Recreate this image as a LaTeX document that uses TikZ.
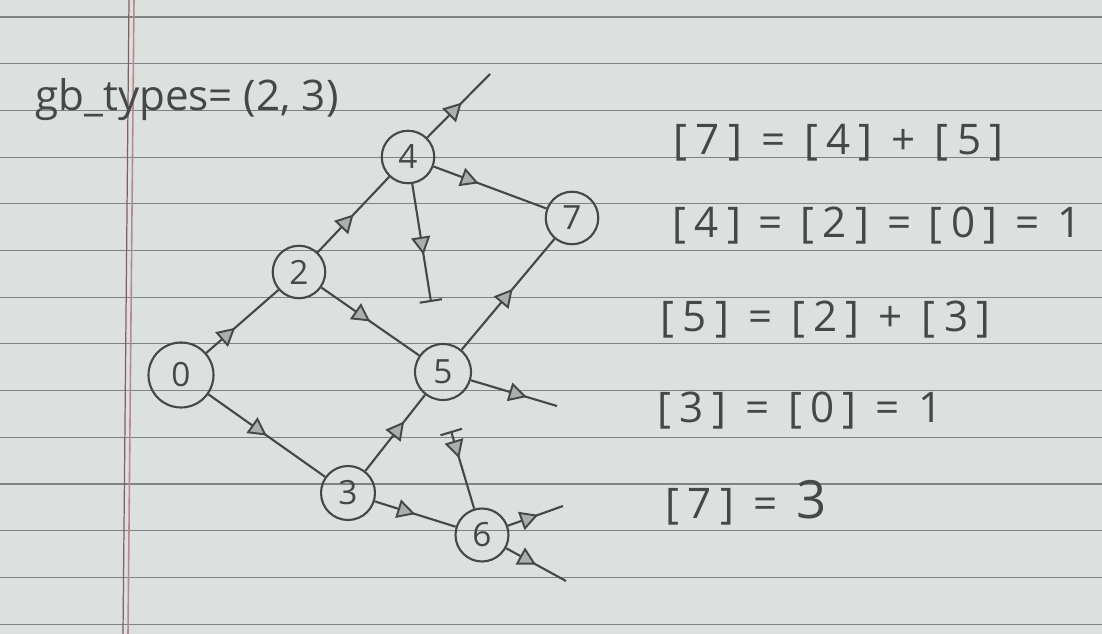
\documentclass[tikz,border=0pt]{standalone}
\usepackage{fontspec}
\setmainfont{Open Sans}
\usepackage{tikz}
\usetikzlibrary{positioning,arrows.meta,decorations.markings}
\definecolor{paper}{HTML}{DCE0DE}
\definecolor{ruling}{HTML}{7E8483}
\definecolor{margin}{HTML}{B8898C}
\definecolor{pencil}{HTML}{464848}
\newcommand{\bx}[1]{[\kern.2em#1\kern.2em]}
\DeclareRobustCommand{\eqfont}{\fontsize{24}{28}\selectfont\spaceskip=0.45em\relax}
\DeclareRobustCommand{\tightfont}{\fontsize{24}{28}\selectfont\spaceskip=0.42em\relax}
\tikzset{
  vertex/.style={
    draw=pencil, line width=1.2pt, circle, inner sep=0pt,
    minimum size=1.05cm, text=pencil, font=\fontsize{19}{21}\selectfont},
  edge/.style={draw=pencil, line width=1.2pt},
  midarrow/.style={postaction={decorate}, decoration={markings,
    mark=at position #1 with {\arrow[pencil, line width=1.1pt]{Triangle[length=3.6mm, width=3.8mm, fill=pencil!45]}}}},
  midarrow/.default=0.5,
  deadend/.style={-{Bar[width=4.5mm]}},
  eqn/.style={anchor=west, inner sep=0pt, text=pencil, font=\eqfont},
}

\begin{document}
\begin{tikzpicture}[x=0.02cm, y=-0.02cm]

  % paper
  \fill[paper] (0,0) rectangle (1102,634);
  \useasboundingbox (0,0) rectangle (1102,634);
  \foreach \k in {0,...,13}
    \draw[ruling, line width=0.6pt] (0,17+46.7*\k) -- (1102,17+46.7*\k);
  \draw[margin!70!black, line width=0.7pt] (129,0) -- (123,634);
  \draw[margin, line width=0.9pt] (134,0) -- (128,634);

  % graph
  \node[vertex, minimum size=1.3cm] (n0) at (181,375) {0};
  \node[vertex] (n2) at (299,272) {2};
  \node[vertex] (n4) at (408,157) {4};
  \node[vertex] (n7) at (572,218) {7};
  \node[vertex, minimum size=1.12cm] (n5) at (443,372) {5};
  \node[vertex, minimum size=1.08cm] (n3) at (348,493) {3};
  \node[vertex, minimum size=1.06cm] (n6) at (482,535) {6};

  \coordinate (o4) at (490,74);
  \coordinate (t4) at (431,302);
  \coordinate (o5) at (557,406);
  \coordinate (t6) at (451,431);
  \coordinate (o6a) at (563,506);
  \coordinate (o6b) at (566,581);

  \draw[edge, midarrow=0.4] (n0) -- (n2);
  \draw[edge, midarrow] (n2) -- (n4);
  \draw[edge, midarrow=0.55] (n4) -- (o4);
  \draw[edge, midarrow=0.4] (n4) -- (n7);
  \draw[edge, deadend, midarrow=0.6] (n4) -- (t4);
  \draw[edge, midarrow] (n2) -- (n5);
  \draw[edge, midarrow=0.55] (n5) -- (n7);
  \draw[edge, midarrow=0.65] (n5) -- (o5);
  \draw[edge, midarrow=0.5] (n0) -- (n3);
  \draw[edge, midarrow=0.65] (n3) -- (n5);
  \draw[edge, midarrow] (n3) -- (n6);
  \draw[edge, {Bar[width=4.5mm]}-, midarrow=0.35] (t6) -- (n6);
  \draw[edge, midarrow=0.55] (n6) -- (o6a);
  \draw[edge, midarrow=0.5] (n6) -- (o6b);

  % notes
  \node[eqn, font=\fontsize{24}{28}\selectfont] (types) at (35,100) {gb\_types= (2, 3)};
  \node[eqn] (eq1) at (673,143) {\bx{7} = \bx{4} + \bx{5}};
  \node[eqn, font=\tightfont] (eq2) at (672,226) {\bx{4} = \bx{2} = \bx{0} = 1};
  \node[eqn] (eq3) at (660,320) {\bx{5} = \bx{2} + \bx{3}};
  \node[eqn] (eq4) at (657,411) {\bx{3} = \bx{0} = 1};
  \node[eqn] (eq5) at (665,503) {\bx{7} = {\fontsize{30}{32}\selectfont 3}};

\end{tikzpicture}
\end{document}
